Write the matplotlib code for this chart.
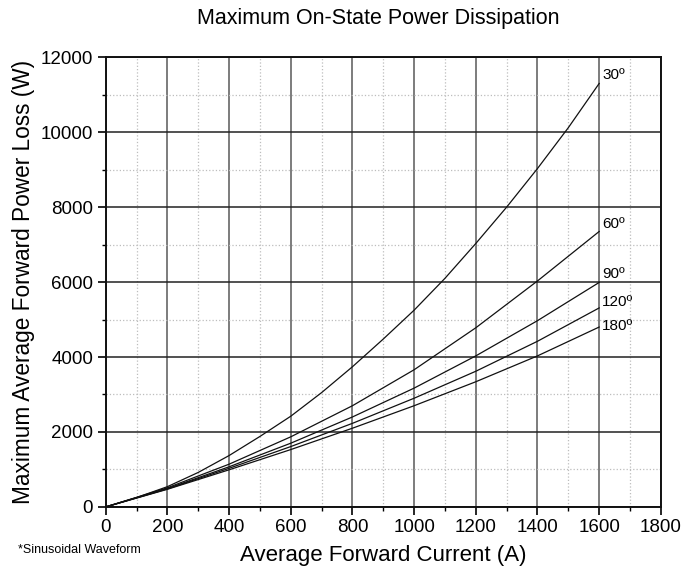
import matplotlib
matplotlib.use('Agg')
import matplotlib.pyplot as plt
from matplotlib.ticker import MultipleLocator

plt.rcParams['font.family'] = ['Liberation Sans', 'DejaVu Sans']

# 평균 순방향 전류 (A)
current = [0, 200, 400, 600, 800, 1000, 1200, 1400, 1600]
current_30 = [0, 100, 200, 300, 400, 500, 600, 700, 800, 900, 1000,
              1100, 1200, 1300, 1400, 1500, 1600]

# 도통각별 최대 평균 손실 (W)
loss_30 = [0, 250, 540, 920, 1370, 1880, 2420, 3050, 3740, 4480, 5250,
           6100, 7030, 8000, 9030, 10120, 11300]
loss_60 = [0, 510, 1140, 1870, 2700, 3660, 4780, 6030, 7350]
loss_90 = [0, 490, 1070, 1700, 2400, 3170, 4030, 4970, 5990]
loss_120 = [0, 480, 1030, 1610, 2230, 2900, 3620, 4420, 5310]
loss_180 = [0, 470, 990, 1530, 2100, 2700, 3340, 4030, 4800]

series = [(current_30, loss_30), (current, loss_60), (current, loss_90),
          (current, loss_120), (current, loss_180)]
names = ['30º', '60º', '90º', '120º', '180º']
label_dy = [230, 200, 230, 170, 20]  # 라벨 위치 보정

fig = plt.figure(figsize=(6.82, 5.78), dpi=100)
ax = fig.add_axes([0.155, 0.123, 0.814, 0.778])

# 격자
ax.xaxis.set_major_locator(MultipleLocator(200))
ax.xaxis.set_minor_locator(MultipleLocator(100))
ax.yaxis.set_major_locator(MultipleLocator(2000))
ax.yaxis.set_minor_locator(MultipleLocator(1000))
ax.grid(which='minor', color='#bdbdbd', linestyle=':', linewidth=0.9)
ax.grid(which='major', axis='x', color='#666666', linewidth=1.2)
ax.grid(which='major', axis='y', color='#222222', linewidth=1.1)
ax.set_axisbelow(True)

for (xs, vals), name, dy in zip(series, names, label_dy):
    ax.plot(xs, vals, color='#111111', linewidth=0.9)
    ax.text(xs[-1] + 10, vals[-1] + dy, name, fontsize=11, ha='left', va='center')

ax.set_xlim(0, 1800)
ax.set_ylim(0, 12000)

for s in ax.spines.values():
    s.set_linewidth(1.4)
    s.set_color('#111111')

ax.tick_params(which='major', direction='out', length=6, width=1.2, labelsize=13.5, pad=3)
ax.tick_params(which='minor', direction='out', length=3, width=1.0)

ax.set_xlabel('Average Forward Current (A)', fontsize=16, labelpad=6)
ax.set_ylabel('Maximum Average Forward Power Loss (W)', fontsize=16.3, labelpad=4)
fig.text(0.555, 0.968, 'Maximum On-State Power Dissipation', fontsize=15.5, ha='center', va='center')
fig.text(0.027, 0.048, '*Sinusoidal Waveform', fontsize=9, ha='left', va='center')

fig.savefig('out.png', dpi=100)
